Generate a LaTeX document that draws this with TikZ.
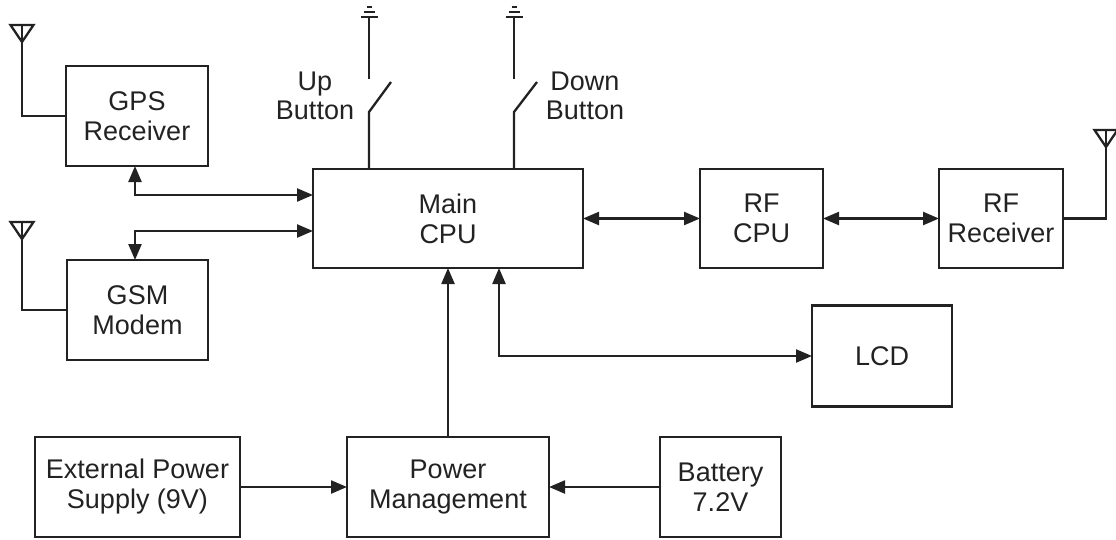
\documentclass[tikz,border=0pt]{standalone}
\usepackage{fontspec}
\setmainfont{Liberation Sans}
\usetikzlibrary{arrows.meta}
\definecolor{ink}{HTML}{222222}
\tikzset{
  box/.style={draw=ink, line width=2.3pt, rectangle, align=center, text=ink,
    font=\fontsize{27}{30}\selectfont, inner sep=0pt, outer sep=0pt},
  lbl/.style={align=center, text=ink, font=\fontsize{27}{29}\selectfont, inner sep=0pt},
  wire/.style={draw=ink, line width=2.3pt},
  arr/.style={wire, -{Triangle[length=16pt,width=13pt]}},
  darr/.style={wire, {Triangle[length=16pt,width=13pt]}-{Triangle[length=16pt,width=13pt]}},
  antenna/.pic={\draw[wire, line join=miter] (-11.5,0) -- (11.5,0) -- (0,17) -- cycle;},
  groundsym/.pic={
    \draw[wire, line width=2pt] (-2.5,-10) -- (2.5,-10);
    \draw[wire, line width=2pt] (-5.5,-5) -- (5.5,-5);
    \draw[wire, line width=2pt] (-8.5,0) -- (8.5,0);}
}
\begin{document}
\begin{tikzpicture}[x=1pt,y=-1pt]
\useasboundingbox (0,0) rectangle (1116,539);
% boxes
\node[box, minimum width=142pt, minimum height=100pt] (gps) at (137,116) {GPS\\Receiver};
\node[box, minimum width=141pt, minimum height=100pt] (gsm) at (137.5,310) {GSM\\Modem};
\node[box, minimum width=270pt, minimum height=99pt] (main) at (448,218.5) {Main\\CPU};
\node[box, minimum width=123pt, minimum height=99pt] (rfcpu) at (761.5,218.5) {RF\\CPU};
\node[box, minimum width=124pt, minimum height=99pt] (rfr) at (1001,218.5) {RF\\Receiver};
\node[box, minimum width=140pt, minimum height=101pt] (lcd) at (882,356) {LCD};
\node[box, minimum width=205pt, minimum height=100pt] (eps) at (137.5,487) {External Power\\Supply (9V)};
\node[box, minimum width=202pt, minimum height=100pt] (pm) at (448,487) {Power\\Management};
\node[box, minimum width=121pt, minimum height=100pt] (bat) at (720.5,487) {Battery\\7.2V};
% switch labels
\node[lbl] (uplbl) at (315,96) {Up\\Button};
\node[lbl] (dnlbl) at (585,96) {Down\\Button};
% helper coordinates
\coordinate (tapL) at (135,0);
\coordinate (gpsY) at (0,195);
\coordinate (gsmY) at (0,231);
\coordinate (lcdX) at (499,0);
\coordinate (upX) at (369,0);
\coordinate (dnX) at (514,0);
% antennas
\coordinate (antA) at (22,25);
\coordinate (antB) at (22,222);
\coordinate (antC) at (1106,130);
\pic at (antA) {antenna};
\pic at (antB) {antenna};
\pic at (antC) {antenna};
\draw[wire] (antA) |- (gps.west);
\draw[wire] (antB) |- (gsm.west);
\draw[wire] (antC) |- (rfr.east);
% buttons
\coordinate (upLow) at (369,112);
\coordinate (upBlade) at (391,82);
\coordinate (upHigh) at (369,79);
\coordinate (upGnd) at (369,17);
\coordinate (dnLow) at (514,112);
\coordinate (dnBlade) at (537,82);
\coordinate (dnHigh) at (514,79);
\coordinate (dnGnd) at (514,17);
\draw[wire] (main.north -| upX) -- (upLow) -- (upBlade);
\draw[wire] (upHigh) -- (upGnd);
\pic at (upGnd) {groundsym};
\draw[wire] (main.north -| dnX) -- (dnLow) -- (dnBlade);
\draw[wire] (dnHigh) -- (dnGnd);
\pic at (dnGnd) {groundsym};
% connectors
\draw[darr] (gps.south -| tapL) |- (main.west |- gpsY);
\draw[darr] (main.west |- gsmY) -| (gsm.north -| tapL);
\draw[darr] (main.east) -- (rfcpu.west);
\draw[darr] (rfcpu.east) -- (rfr.west);
\draw[darr] (main.south -| lcdX) |- (lcd.west);
\draw[arr] (pm.north) -- (main.south);
\draw[arr] (eps.east) -- (pm.west);
\draw[arr] (bat.west) -- (pm.east);
\end{tikzpicture}
\end{document}
